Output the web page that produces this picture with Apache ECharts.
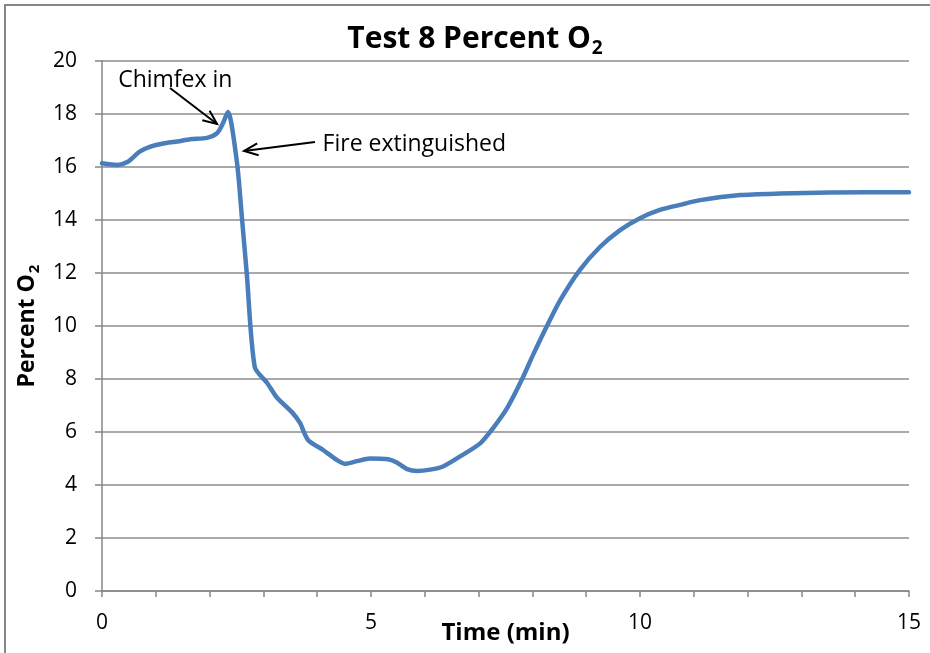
<!DOCTYPE html>
<html>
<head>
<meta charset="utf-8">
<script src="https://cdn.jsdelivr.net/npm/echarts@6/dist/echarts.min.js"></script>
<style>html,body{margin:0;padding:0;background:#fff}#c{width:930px;height:653px}</style>
</head>
<body>
<div id="c"></div>
<script>
var times = [0,0.28,0.48,0.7,0.9,1.14,1.4,1.64,1.95,2.14,2.25,2.34,2.51,2.6,2.69,2.84,3.07,3.25,3.53,3.68,3.83,4.11,4.37,4.52,4.74,4.98,5.32,5.48,5.67,5.86,6.1,6.34,6.65,7.03,7.27,7.53,7.8,8.01,8.27,8.51,8.88,9.26,9.63,10.0,10.37,10.74,11.12,11.86,12.6,13.53,15.0];
var o2 = [16.14,16.08,16.2,16.58,16.77,16.89,16.96,17.05,17.1,17.28,17.66,18.08,16.15,14.1,12.0,8.45,7.85,7.3,6.75,6.34,5.7,5.32,4.94,4.8,4.9,5.0,4.97,4.85,4.6,4.53,4.58,4.7,5.07,5.57,6.15,6.9,7.96,8.9,10.0,10.95,12.11,12.99,13.62,14.07,14.38,14.57,14.75,14.94,15.0,15.04,15.05];
var xTickLabels = ['0','5','10','15'];
var yTickLabels = ['0','2','4','6','8','10','12','14','16','18','20'];
var annotations = [
  {text:'Chimfex in', tx:0.3, ty:19.25},
  {text:'Fire extinguished', tx:4.1, ty:16.85}
];

var FONT = '"Open Sans", "Noto Sans", sans-serif';
var data = times.map(function(t,i){return [t,o2[i]];});
var chart = echarts.init(document.getElementById('c'), null, {renderer:'canvas'});

var option = {
  backgroundColor:'#fff',
  animation:false,
  title:{
    text:'{m|Test 8 Percent O}{s|2}',
    left:470, top:16, textAlign:'center',
    textStyle:{
      rich:{
        m:{fontFamily:FONT,fontSize:30,fontWeight:'bold',color:'#000'},
        s:{fontFamily:FONT,fontSize:19,fontWeight:'bold',color:'#000',padding:[18,0,0,1]}
      }
    }
  },
  grid:{left:102,right:21,top:61,bottom:62,containLabel:false,outerBoundsMode:'none'},
  xAxis:{
    type:'value',min:0,max:15,interval:1,
    name:'Time (min)',nameLocation:'middle',nameGap:30,nameMoveOverlap:false,
    nameTextStyle:{fontFamily:FONT,fontSize:24,fontWeight:'bold',color:'#000'},
    axisLine:{lineStyle:{color:'#868686',width:1.5}},
    axisTick:{show:true,length:6,lineStyle:{color:'#868686',width:1.5}},
    axisLabel:{
      fontFamily:FONT,fontSize:21,color:'#000',margin:22,
      formatter:function(v){var s=String(v);return xTickLabels.indexOf(s)>=0?s:'';}
    },
    splitLine:{show:false}
  },
  yAxis:{
    type:'value',min:0,max:20,interval:2,
    name:'{m|Percent O}{s|2}',nameLocation:'middle',nameGap:55,nameRotate:90,
    nameTextStyle:{rich:{
      m:{fontFamily:FONT,fontSize:23,fontWeight:'bold',color:'#000'},
      s:{fontFamily:FONT,fontSize:15,fontWeight:'bold',color:'#000',padding:[14,0,0,1]}
    }},
    axisLine:{show:true,lineStyle:{color:'#868686',width:1.5}},
    axisTick:{show:true,length:7,lineStyle:{color:'#868686',width:1.5}},
    axisLabel:{
      fontFamily:FONT,fontSize:21,color:'#000',margin:25,
      formatter:function(v){var s=String(v);return yTickLabels.indexOf(s)>=0?s:'';}
    },
    splitLine:{show:true,lineStyle:{color:'#8c8c8c',width:1.5}}
  },
  series:[{
    type:'line',data:data,smooth:0.25,showSymbol:false,symbol:'none',
    lineStyle:{color:'#4a7ebb',width:4.5,cap:'round',join:'round'},
    z:3
  }]
};
chart.setOption(option);

function drawAnnotations(){
  var p = function(x,y){return chart.convertToPixel({gridIndex:0},[x,y]);};
  var peak = p(times[10], o2[10]);
  var drop = p(times[12], o2[12]);
  var els = [];
  els.push({type:'rect',shape:{x:5,y:5,width:1000,height:800},style:{fill:null,stroke:'#868686',lineWidth:2},silent:true,z:0});
  var c = p(annotations[0].tx, annotations[0].ty);
  els.push({type:'text',x:c[0],y:c[1],style:{text:annotations[0].text,font:'23px '+FONT,fill:'#000',verticalAlign:'middle'},z:10});
  els.push(arrow([170, 88],[peak[0]-6, peak[1]+1]));
  var f = p(annotations[1].tx, annotations[1].ty);
  els.push({type:'text',x:f[0],y:f[1],style:{text:annotations[1].text,font:'23px '+FONT,fill:'#000',verticalAlign:'middle'},z:10});
  els.push(arrow([315, 142],[drop[0]+7, drop[1]-12]));
  chart.setOption({graphic:{elements:els}});
}
function arrow(from,to){
  var dx=to[0]-from[0], dy=to[1]-from[1];
  var L=Math.sqrt(dx*dx+dy*dy), ux=dx/L, uy=dy/L;
  var h=14, w=6;
  var bx=to[0]-ux*h, by=to[1]-uy*h;
  var l=[bx-uy*w, by+ux*w], r=[bx+uy*w, by-ux*w];
  return {type:'group',z:10,children:[
    {type:'line',shape:{x1:from[0],y1:from[1],x2:to[0],y2:to[1]},style:{stroke:'#000',lineWidth:2}},
    {type:'polyline',shape:{points:[l,to,r]},style:{stroke:'#000',lineWidth:2,fill:null}}
  ]};
}
drawAnnotations();
</script>
</body>
</html>
